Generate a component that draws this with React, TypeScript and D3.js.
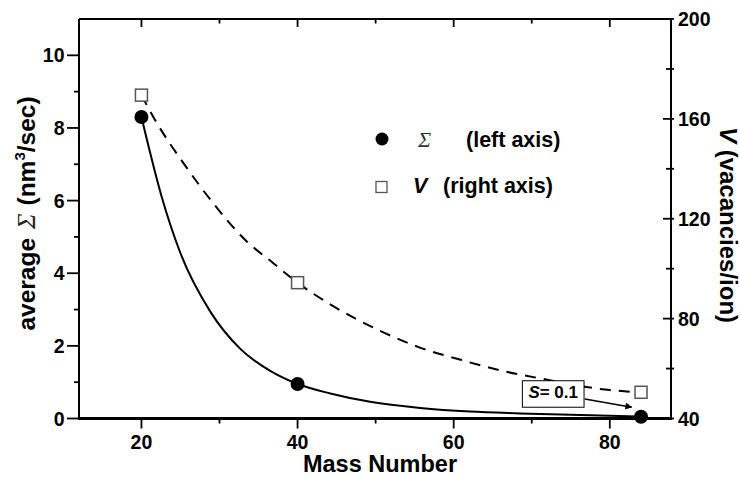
import React from "react";
import * as d3 from "d3";

// Measured data points
const massNumbers = [20, 40, 84];
const sigmaValues = [8.3, 0.95, 0.05];
const vacancyValues = [169.5, 94.4, 50.5];

// Fitted curves
const sigmaFitX = [20, 22.6, 25.0, 28.8, 32.7, 36.5, 40, 44.2, 49.3, 55.7, 62.1, 68.5, 76.2, 84];
const sigmaFitY = [8.3, 6.1, 4.55, 2.95, 1.91, 1.31, 0.95, 0.69, 0.46, 0.29, 0.19, 0.14, 0.095, 0.05];
const vacFitX = [20, 22, 25.4, 29.2, 33.3, 36.9, 40, 44.4, 49.9, 55.5, 61, 66.5, 72, 76.8, 80, 84];
const vacFitY = [169.5, 158.2, 142.2, 126.2, 111.5, 102.2, 94.4, 85.3, 76.1, 68.6, 63.4, 58.9, 55.5, 52.7, 51.4, 50.5];

// Axis ticks
const xMajor = [20, 40, 60, 80];
const xMinor = [30, 50, 70];
const yLMajor = [0, 2, 4, 6, 8, 10];
const yLMinor = [1, 3, 5, 7, 9];
const yRMajor = [40, 80, 120, 160, 200];
const yRMinor = [60, 100, 140, 180];

// Annotation (data coords: x, left-axis value)
const annoBox = { x0: 68.8, x1: 76.7, top: 1.04, bottom: 0.31 };
const annoArrow = { x0: 76.8, y0: 0.54, x1: 82.8, y1: 0.31 };

const W = 740;
const H = 478;
const L = 79, R = 671, T = 19, B = 418.5;

const SANS = "'Liberation Sans', Arial, Helvetica, sans-serif";
const SERIF = "'Liberation Serif', 'Times New Roman', serif";

export default function App() {
  const x = d3.scaleLinear().domain([12, 87.84]).range([L, R]);
  const yL = d3.scaleLinear().domain([0, 11]).range([B, T]);
  const yR = d3.scaleLinear().domain([40, 200]).range([B, T]);

  const sigmaLine = d3
    .line<number>()
    .x((d, i) => x(sigmaFitX[i]))
    .y((d) => yL(d))
    .curve(d3.curveMonotoneX);
  const vacLine = d3
    .line<number>()
    .x((d, i) => x(vacFitX[i]))
    .y((d) => yR(d))
    .curve(d3.curveMonotoneX);

  const sq = 12;

  return (
    <svg
      width={W}
      height={H}
      viewBox={`0 0 ${W} ${H}`}
      style={{ position: "absolute", left: 0, top: 0, background: "#fff" }}
    >
      <defs>
        <marker id="arr" viewBox="0 0 10 10" refX="9" refY="5" markerWidth="9" markerHeight="7" orient="auto" markerUnits="userSpaceOnUse">
          <path d="M0,0 L10,5 L0,10 Z" fill="#000" />
        </marker>
      </defs>

      {/* curves */}
      <path d={vacLine(vacFitY) || ""} fill="none" stroke="#000" strokeWidth={2} strokeDasharray="11,8" />
      <path d={sigmaLine(sigmaFitY) || ""} fill="none" stroke="#000" strokeWidth={2} />

      {/* frame */}
      <line x1={L} x2={L} y1={T} y2={B} stroke="#000" strokeWidth={2} />
      <line x1={R} x2={R} y1={T} y2={B} stroke="#000" strokeWidth={2} />
      <line x1={L} x2={R} y1={T} y2={T} stroke="#000" strokeWidth={2} />
      <line x1={L - 1} x2={R + 1} y1={B} y2={B} stroke="#000" strokeWidth={3} />

      {/* bottom ticks (outward) */}
      {xMajor.map((v) => (
        <line key={"xb" + v} x1={x(v)} x2={x(v)} y1={B} y2={B + 10} stroke="#000" strokeWidth={1.8} />
      ))}
      {xMinor.map((v) => (
        <line key={"xbm" + v} x1={x(v)} x2={x(v)} y1={B} y2={B + 5} stroke="#000" strokeWidth={1.8} />
      ))}
      {/* top ticks (inward) */}
      {xMajor.map((v) => (
        <line key={"xt" + v} x1={x(v)} x2={x(v)} y1={T} y2={T + 8} stroke="#000" strokeWidth={1.8} />
      ))}
      {xMinor.map((v) => (
        <line key={"xtm" + v} x1={x(v)} x2={x(v)} y1={T} y2={T + 4.5} stroke="#000" strokeWidth={1.8} />
      ))}
      {/* left ticks (outward) */}
      {yLMajor.map((v) => (
        <line key={"yl" + v} x1={L - 12} x2={L} y1={yL(v)} y2={yL(v)} stroke="#000" strokeWidth={1.8} />
      ))}
      {yLMinor.map((v) => (
        <line key={"ylm" + v} x1={L - 5} x2={L} y1={yL(v)} y2={yL(v)} stroke="#000" strokeWidth={1.8} />
      ))}
      {/* right ticks */}
      {yRMajor.map((v) => (
        <line key={"yr" + v} x1={R - 8} x2={R + 3} y1={yR(v)} y2={yR(v)} stroke="#000" strokeWidth={1.8} />
      ))}
      {yRMinor.map((v) => (
        <line key={"yrm" + v} x1={R - 5} x2={R + 3} y1={yR(v)} y2={yR(v)} stroke="#000" strokeWidth={1.8} />
      ))}

      {/* tick labels */}
      <g fontFamily={SANS} fontWeight="bold" fontSize={19.5} fill="#000">
        {xMajor.map((v) => (
          <text key={"xl" + v} x={x(v)} y={449} textAnchor="middle">{v}</text>
        ))}
        {yLMajor.map((v) => (
          <text key={"yll" + v} x={64.5} y={yL(v)} dy="0.36em" textAnchor="end">{v}</text>
        ))}
        {yRMajor.map((v) => (
          <text key={"yrl" + v} x={678} y={yR(v)} dy="0.36em" textAnchor="start">{v}</text>
        ))}
      </g>

      {/* axis titles */}
      <text x={380} y={472} textAnchor="middle" fontFamily={SANS} fontWeight="bold" fontSize={23.5}>Mass Number</text>
      <text
        transform={`translate(35,${213.5}) rotate(-90)`}
        textAnchor="middle"
        fontFamily={SANS}
        fontWeight="bold"
        fontSize={24.5}
      >
        <tspan>average</tspan>
        <tspan dx={9} fontFamily={SERIF} fontStyle="italic" fontWeight="normal" fontSize={26} fill="#222">Σ</tspan>
        <tspan dx={8}>(nm</tspan>
        <tspan fontSize={15} dy={-10}>3</tspan>
        <tspan dy={10}>/sec)</tspan>
      </text>
      <text
        transform={`translate(719.5,${225}) rotate(90)`}
        textAnchor="middle"
        fontFamily={SANS}
        fontWeight="bold"
        fontSize={24}
      >
        <tspan fontStyle="italic">V</tspan>
        <tspan> (vacancies/ion)</tspan>
      </text>

      {/* data markers */}
      {massNumbers.map((m, i) => (
        <rect
          key={"sq" + m}
          x={x(m) - sq / 2}
          y={yR(vacancyValues[i]) - sq / 2}
          width={sq}
          height={sq}
          fill="#fff"
          stroke="#555"
          strokeWidth={1.5}
        />
      ))}
      {massNumbers.map((m, i) => (
        <circle key={"c" + m} cx={x(m)} cy={yL(sigmaValues[i])} r={7} fill="#000" />
      ))}

      {/* annotation */}
      <line
        x1={x(annoArrow.x0)}
        y1={yL(annoArrow.y0)}
        x2={x(annoArrow.x1)}
        y2={yL(annoArrow.y1)}
        stroke="#000"
        strokeWidth={1.5}
        markerEnd="url(#arr)"
      />
      <rect
        x={x(annoBox.x0)}
        y={yL(annoBox.top)}
        width={x(annoBox.x1) - x(annoBox.x0)}
        height={yL(annoBox.bottom) - yL(annoBox.top)}
        fill="#fff"
        stroke="#000"
        strokeWidth={1}
      />
      <text
        x={(x(annoBox.x0) + x(annoBox.x1)) / 2}
        y={397.5}
        textAnchor="middle"
        fontFamily={SANS}
        fontWeight="bold"
        fontSize={17}
      >
        <tspan fontStyle="italic">S</tspan>
        <tspan>= 0.1</tspan>
      </text>

      {/* legend */}
      <circle cx={382} cy={139} r={6.5} fill="#000" />
      <text x={418} y={147} fontFamily={SERIF} fontStyle="italic" fontSize={22} fill="#333">Σ</text>
      <text x={466} y={146.5} fontFamily={SANS} fontWeight="bold" fontSize={21.5}>(left axis)</text>
      <rect x={376} y={181.5} width={11} height={11} fill="#fff" stroke="#555" strokeWidth={1.3} />
      <text x={413} y={193} fontFamily={SANS} fontWeight="bold" fontStyle="italic" fontSize={21.5}>V</text>
      <text x={443} y={193} fontFamily={SANS} fontWeight="bold" fontSize={21.5}>(right axis)</text>
    </svg>
  );
}
